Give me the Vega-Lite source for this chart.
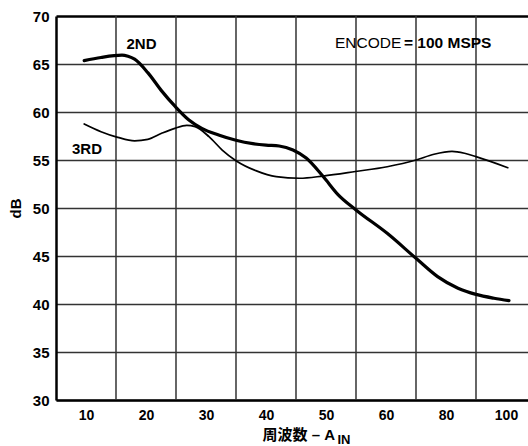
{
  "$schema": "https://vega.github.io/schema/vega-lite/v6.json",
  "width": 472,
  "height": 384,
  "autosize": {"type": "none"},
  "padding": {"left": 56, "top": 16, "right": 0, "bottom": 46},
  "background": "white",
  "config": {
    "view": {"stroke": null},
    "font": "Liberation Sans, Arial, Noto Sans CJK JP, sans-serif"
  },
  "datasets": {
    "curves": [
      {"series": "2ND", "x": 0.97, "y": 65.35},
      {"series": "2ND", "x": 1.25, "y": 65.68},
      {"series": "2ND", "x": 1.6, "y": 65.92},
      {"series": "2ND", "x": 1.7, "y": 65.8},
      {"series": "2ND", "x": 1.81, "y": 65.5},
      {"series": "2ND", "x": 2.03, "y": 64.1},
      {"series": "2ND", "x": 2.26, "y": 62.2},
      {"series": "2ND", "x": 2.49, "y": 60.55},
      {"series": "2ND", "x": 2.71, "y": 59.2},
      {"series": "2ND", "x": 2.93, "y": 58.3},
      {"series": "2ND", "x": 3.21, "y": 57.6},
      {"series": "2ND", "x": 3.5, "y": 57.05},
      {"series": "2ND", "x": 3.78, "y": 56.7},
      {"series": "2ND", "x": 4.0, "y": 56.55},
      {"series": "2ND", "x": 4.22, "y": 56.46},
      {"series": "2ND", "x": 4.45, "y": 56.04},
      {"series": "2ND", "x": 4.67, "y": 55.2},
      {"series": "2ND", "x": 4.95, "y": 53.3},
      {"series": "2ND", "x": 5.2, "y": 51.4},
      {"series": "2ND", "x": 5.5, "y": 49.8},
      {"series": "2ND", "x": 6.02, "y": 47.36},
      {"series": "2ND", "x": 6.5, "y": 44.76},
      {"series": "2ND", "x": 6.86, "y": 42.85},
      {"series": "2ND", "x": 7.2, "y": 41.64},
      {"series": "2ND", "x": 7.5, "y": 41.0},
      {"series": "2ND", "x": 7.8, "y": 40.6},
      {"series": "2ND", "x": 8.05, "y": 40.35},
      {"series": "3RD", "x": 0.97, "y": 58.75},
      {"series": "3RD", "x": 1.25, "y": 57.95},
      {"series": "3RD", "x": 1.53, "y": 57.36},
      {"series": "3RD", "x": 1.81, "y": 57.0},
      {"series": "3RD", "x": 2.03, "y": 57.15},
      {"series": "3RD", "x": 2.26, "y": 57.78},
      {"series": "3RD", "x": 2.48, "y": 58.3},
      {"series": "3RD", "x": 2.68, "y": 58.6},
      {"series": "3RD", "x": 2.82, "y": 58.47},
      {"series": "3RD", "x": 3.05, "y": 57.43},
      {"series": "3RD", "x": 3.27, "y": 56.04},
      {"series": "3RD", "x": 3.5, "y": 54.93},
      {"series": "3RD", "x": 3.83, "y": 53.89},
      {"series": "3RD", "x": 4.17, "y": 53.26},
      {"series": "3RD", "x": 4.56, "y": 53.1},
      {"series": "3RD", "x": 4.95, "y": 53.33},
      {"series": "3RD", "x": 5.49, "y": 53.8},
      {"series": "3RD", "x": 6.02, "y": 54.3},
      {"series": "3RD", "x": 6.5, "y": 55.0},
      {"series": "3RD", "x": 6.8, "y": 55.6},
      {"series": "3RD", "x": 7.1, "y": 55.9},
      {"series": "3RD", "x": 7.31, "y": 55.7},
      {"series": "3RD", "x": 7.5, "y": 55.35},
      {"series": "3RD", "x": 8.03, "y": 54.2}
    ],
    "vgrid": [
      {"x": 1.5}, {"x": 2.5}, {"x": 3.5}, {"x": 4.5}, {"x": 5.5}, {"x": 6.5}, {"x": 7.5}
    ],
    "notes": [
      {"kind": "series", "label": "2ND", "x": 1.925, "y": 66.56},
      {"kind": "series", "label": "3RD", "x": 1.017, "y": 55.63},
      {"kind": "regular", "label": "ENCODE", "x": 5.15, "y": 66.64},
      {"kind": "bold", "label": "= 100 MSPS", "x": 6.3, "y": 66.64},
      {"kind": "sub", "label": "IN", "x": 5.19, "y": 25.45}
    ]
  },
  "layer": [
    {
      "data": {"name": "vgrid"},
      "mark": {"type": "rule", "color": "#333333", "strokeWidth": 1.5},
      "encoding": {
        "x": {
          "field": "x", "type": "quantitative",
          "scale": {"domain": [0.5, 8.3667], "nice": false, "zero": false},
          "axis": {
            "values": [1, 2, 3, 4, 5, 6, 7, 8],
            "labelExpr": "datum.value <= 6 ? datum.value * 10 : (datum.value === 7 ? 80 : 100)",
            "grid": false,
            "ticks": false,
            "domain": true,
            "domainColor": "black",
            "domainWidth": 2.5,
            "labelFontSize": 14,
            "labelFontWeight": "bold",
            "labelColor": "black",
            "labelPadding": 8,
            "labelFlush": false,
            "labelOverlap": false,
            "labelBound": false,
            "title": "周波数 – A",
            "titleFont": "Liberation Sans, Noto Sans CJK JP, sans-serif",
            "titleFontSize": 15,
            "titleFontWeight": "bold",
            "titleColor": "black",
            "titleAlign": "left",
            "titleAnchor": "start",
            "titleBaseline": "alphabetic",
            "titleX": 206,
            "titleY": 39.5
          }
        }
      }
    },
    {
      "data": {"name": "curves"},
      "mark": {"type": "line", "interpolate": "monotone", "color": "black", "strokeCap": "round"},
      "encoding": {
        "x": {"field": "x", "type": "quantitative"},
        "y": {
          "field": "y", "type": "quantitative",
          "scale": {"domain": [30, 70], "nice": false, "zero": false},
          "axis": {
            "values": [30, 35, 40, 45, 50, 55, 60, 65, 70],
            "grid": true,
            "gridColor": {"condition": {"test": "datum.value === 70", "value": "black"}, "value": "#333333"},
            "gridWidth": {"condition": {"test": "datum.value === 70", "value": 2.5}, "value": 1.5},
            "ticks": false,
            "domain": true,
            "domainColor": "black",
            "domainWidth": 2.5,
            "labelFontSize": 15,
            "labelFontWeight": "bold",
            "labelColor": "black",
            "labelPadding": 7,
            "labelFlush": false,
            "labelOverlap": false,
            "title": "dB",
            "titleFontSize": 15,
            "titleFontWeight": "bold",
            "titleColor": "black",
            "titlePadding": 9
          }
        },
        "detail": {"field": "series", "type": "nominal"},
        "strokeWidth": {
          "field": "series", "type": "nominal",
          "scale": {"domain": ["2ND", "3RD"], "range": [3.2, 1.7]},
          "legend": null
        }
      }
    },
    {
      "data": {"name": "notes"},
      "transform": [{"filter": "datum.kind === 'series'"}],
      "mark": {"type": "text", "color": "black", "align": "center", "baseline": "alphabetic", "fontSize": 15, "fontWeight": "bold"},
      "encoding": {
        "x": {"field": "x", "type": "quantitative"},
        "y": {"field": "y", "type": "quantitative"},
        "text": {"field": "label"}
      }
    },
    {
      "data": {"name": "notes"},
      "transform": [{"filter": "datum.kind === 'regular'"}],
      "mark": {"type": "text", "color": "black", "align": "left", "baseline": "alphabetic", "fontSize": 15.5, "fontWeight": "normal"},
      "encoding": {
        "x": {"field": "x", "type": "quantitative"},
        "y": {"field": "y", "type": "quantitative"},
        "text": {"field": "label"}
      }
    },
    {
      "data": {"name": "notes"},
      "transform": [{"filter": "datum.kind === 'bold'"}],
      "mark": {"type": "text", "color": "black", "align": "left", "baseline": "alphabetic", "fontSize": 15.5, "fontWeight": "bold"},
      "encoding": {
        "x": {"field": "x", "type": "quantitative"},
        "y": {"field": "y", "type": "quantitative"},
        "text": {"field": "label"}
      }
    },
    {
      "data": {"name": "notes"},
      "transform": [{"filter": "datum.kind === 'sub'"}],
      "mark": {"type": "text", "color": "black", "align": "left", "baseline": "alphabetic", "fontSize": 13, "fontWeight": "bold"},
      "encoding": {
        "x": {"field": "x", "type": "quantitative"},
        "y": {"field": "y", "type": "quantitative"},
        "text": {"field": "label"}
      }
    }
  ]
}
